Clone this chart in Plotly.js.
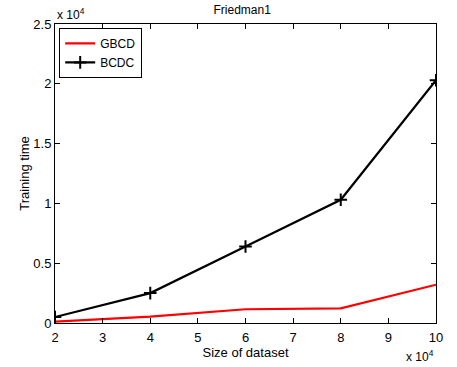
<!DOCTYPE html>
<html><head><meta charset="utf-8">
<script src="https://cdn.plot.ly/plotly-3.0.1.min.js"></script>
<style>body{margin:0;background:#fff}#c{width:457px;height:367px}</style>
</head><body><div id="c"></div>
<script>
var sizes = [20000, 40000, 60000, 80000, 100000];
var gbcd = [120, 530, 1150, 1230, 3200];
var bcdc = [500, 2500, 6400, 10300, 20300];
var xTickVals = [20000, 30000, 40000, 50000, 60000, 70000, 80000, 90000, 100000];
var xTickText = ['2','3','4','5','6','7','8','9','10'];
var yTickVals = [0, 5000, 10000, 15000, 20000, 25000];
var yTickText = ['0','0.5','1','1.5','2','2.5'];

var F = 'Liberation Sans, Arial, Helvetica, sans-serif';
var traces = [
  {x: sizes, y: gbcd, name: 'GBCD', mode: 'lines', line: {color: '#ff0000', width: 2.2}},
  {x: sizes, y: bcdc, name: 'BCDC', mode: 'lines+markers', line: {color: '#000000', width: 2.2},
   marker: {symbol: 'cross-thin', size: 9, color: '#000', line: {color: '#000', width: 2}}}
];
var axBase = {showgrid: false, zeroline: false, showline: true, linecolor: '#000', linewidth: 1,
  mirror: 'ticks', ticks: 'inside', ticklen: 5, tickcolor: '#000', tickfont: {family: F, size: 13, color: '#000'}};
var layout = {
  width: 457, height: 367,
  margin: {l: 55, r: 21, t: 24, b: 44},
  paper_bgcolor: '#fff', plot_bgcolor: '#fff',
  font: {family: F, color: '#000'},
  title: {text: 'Friedman1', font: {family: F, size: 12, color: '#000'}, x: 0.53, xanchor: 'center', y: 0.972, yanchor: 'middle'},
  xaxis: Object.assign({}, axBase, {range: [20000, 100000], tickvals: xTickVals, ticktext: xTickText, ticklabelstandoff: 2,
    title: {text: 'Size of dataset', font: {family: F, size: 13, color: '#000'}, standoff: 0}}),
  yaxis: Object.assign({}, axBase, {range: [0, 25000], tickvals: yTickVals, ticktext: yTickText,
    title: {text: 'Training time', font: {family: F, size: 13, color: '#000'}, standoff: 0}}),
  showlegend: true,
  legend: {x: 0.011, y: 0.987, xanchor: 'left', yanchor: 'top', bgcolor: '#fff', bordercolor: '#000', borderwidth: 1,
    font: {family: F, size: 12, color: '#000'}, tracegroupgap: 0, itemwidth: 30},
  annotations: [
    {xref: 'paper', yref: 'paper', x: 0, y: 1, xanchor: 'left', yanchor: 'bottom', yshift: 0, showarrow: false,
     text: 'x 10<sup>4</sup>', font: {family: F, size: 12, color: '#000'}},
    {xref: 'paper', yref: 'paper', x: 1, y: 0, xanchor: 'right', yanchor: 'top', yshift: -23, showarrow: false,
     text: 'x 10<sup>4</sup>', font: {family: F, size: 12, color: '#000'}}
  ]
};
Plotly.newPlot('c', traces, layout, {displayModeBar: false, staticPlot: true});
</script></body></html>
